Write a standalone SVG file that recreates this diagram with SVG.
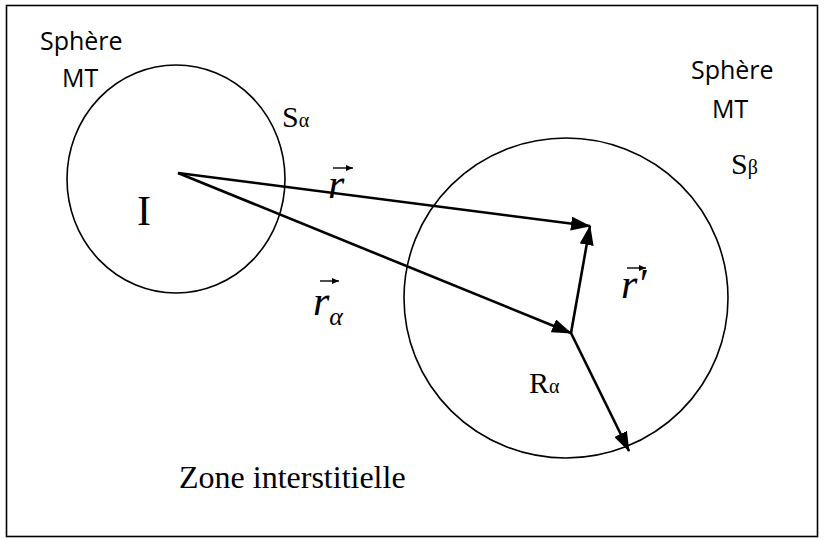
<svg xmlns="http://www.w3.org/2000/svg" width="825" height="541" viewBox="0 0 825 541">
<style>
.sans{font-family:"Open Sans","Noto Sans",sans-serif;font-size:25px;fill:#000}
.serif{font-family:"Liberation Serif","Times New Roman",serif;fill:#000}
.it{font-style:italic}
.ring{fill:none;stroke:#000;stroke-width:1.6}
.vec{fill:none;stroke:#000;stroke-width:2.6}
.acc{fill:none;stroke:#000;stroke-width:1.4}
</style>
<defs>
<marker id="ah" markerUnits="userSpaceOnUse" markerWidth="20" markerHeight="14" refX="19" refY="7" orient="auto">
<path d="M0,0 L20,7 L0,14 z" fill="#000"/>
</marker>
<marker id="sa" markerUnits="userSpaceOnUse" markerWidth="7" markerHeight="6" refX="7" refY="3" orient="auto">
<path d="M0,0 L7,3 L0,6 z" fill="#000"/>
</marker>
</defs>
<rect x="6.5" y="5.5" width="811" height="531" fill="#fff" stroke="#000" stroke-width="1.6"/>
<g id="sphere-alpha">
<ellipse class="ring" cx="176" cy="179" rx="109" ry="114"/>
<text class="sans" x="40" y="50">Sphère</text>
<text class="sans" x="62" y="87">MT</text>
<text class="serif" x="282" y="127" font-size="30">S<tspan font-size="20">α</tspan></text>
<text class="serif" x="137" y="225" font-size="42">I</text>
</g>
<g id="sphere-beta">
<ellipse class="ring" cx="566" cy="298" rx="162" ry="160"/>
<text class="sans" x="691" y="79">Sphère</text>
<text class="sans" x="712" y="118">MT</text>
<text class="serif" x="731" y="174" font-size="30">S<tspan font-size="20">β</tspan></text>
<text class="serif" x="529" y="393" font-size="30">R<tspan font-size="20">α</tspan></text>
</g>
<g id="zone">
<text class="serif" x="179" y="488" font-size="32">Zone interstitielle</text>
</g>
<g id="connectors">
<line class="vec" x1="178" y1="173" x2="590" y2="226" marker-end="url(#ah)"/>
<line class="vec" x1="178" y1="173" x2="571" y2="333" marker-end="url(#ah)"/>
<line class="vec" x1="571" y1="333" x2="590" y2="226" marker-end="url(#ah)"/>
<line class="vec" x1="571" y1="333" x2="629" y2="451" marker-end="url(#ah)"/>
</g>
<g id="labels">
<text class="serif it" x="328" y="198" font-size="42">r</text>
<line class="acc" x1="333" y1="168" x2="353" y2="168" marker-end="url(#sa)"/>
<text class="serif it" x="313" y="315" font-size="42">r<tspan font-size="26" dy="10">α</tspan></text>
<line class="acc" x1="320" y1="281" x2="339" y2="281" marker-end="url(#sa)"/>
<text class="serif it" x="621" y="298" font-size="42">r′</text>
<line class="acc" x1="627" y1="268" x2="646" y2="268" marker-end="url(#sa)"/>
</g>
</svg>
